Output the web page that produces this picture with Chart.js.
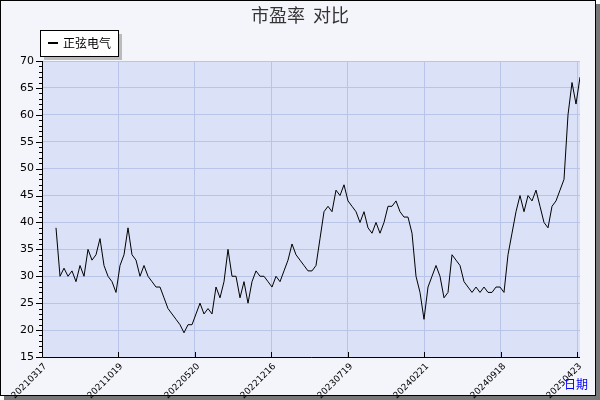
<!DOCTYPE html>
<html><head><meta charset="utf-8">
<script src="https://cdn.jsdelivr.net/npm/chart.js@4/dist/chart.umd.min.js"></script>
<style>html,body{margin:0;padding:0;background:#fff}canvas{display:block}</style>
</head><body>
<canvas id="c" width="600" height="400" style="width:600px;height:400px"></canvas>
<script>
const seriesName = '正弦电气';
const tickLabels = ['20210317','20211019','20220520','20221216','20230719','20240221','20240918','20250423'];
const peValues = [39,30,31.5,30,31,29,32,30,35,33,34,37,32,30,29,27,32,34,39,34,33,30,32,30,29,28,28,26,24,23,22,21,19.5,21,21,23,25,23,24,23,28,26,29,35,30,30,26,29,25,29,31,30,30,29,28,30,29,31,33,36,34,33,32,31,31,32,37,42,43,42,46,45,47,44,43,42,40,42,39,38,40,38,40,43,43,44,42,41,41,38,30,27,22,28,30,32,30,26,27,34,33,32,29,28,27,28,27,28,27,27,28,28,27,34,38,42,45,42,45,44,46,43,40,39,43,44,46,48,60,66,62,67,58,50,40,43,44,45,43];
const tickStep = 19.11;
const pts = peValues.map((v,i)=>({x:i+3.5,y:v}));

const frame = {id:'frame',
  beforeDraw(c){const g=c.ctx,a=c.chartArea;g.save();
    g.fillStyle='#fff';g.fillRect(0,0,600,400);
    g.fillStyle='#777';g.fillRect(4,4,596,396);
    g.fillStyle='#f4f4fb';g.fillRect(0,0,596,396);
    g.strokeStyle='#000';g.lineWidth=1;g.strokeRect(0.5,0.5,595,395);
    g.fillStyle='#dbe1f6';g.fillRect(a.left,a.top,a.right-a.left,a.bottom-a.top);
    g.restore();},
  afterDraw(c){const g=c.ctx,a=c.chartArea;g.save();
    g.font='18px "Noto Sans CJK SC"';g.fillStyle='#333';g.textAlign='center';g.textBaseline='middle';
    g.fillText('市盈率  对比',300,15);
    g.fillStyle='#bbb';g.fillRect(44,34,78,26);
    g.fillStyle='#fff';g.fillRect(40,30,78,26);
    g.strokeStyle='#000';g.lineWidth=1;g.strokeRect(40.5,30.5,78,26);
    g.fillStyle='#000';g.fillRect(48,42,10,2);
    g.font='12px "Noto Sans CJK SC"';g.textAlign='left';g.fillText(seriesName,63,43);
    g.beginPath();g.moveTo(a.left+0.5,a.top);g.lineTo(a.left+0.5,a.bottom+0.5);g.lineTo(a.right,a.bottom+0.5);g.stroke();
    const ys=c.scales.y;g.beginPath();
    for(let v=15;v<=70;v+=1){const y=Math.round(ys.getPixelForValue(v))+0.5;const L=(v%5===0)?6:3;g.moveTo(a.left-L,y);g.lineTo(a.left,y);}
    g.stroke();
    const xs=c.scales.x;g.font='9px "DejaVu Sans"';g.fillStyle='#000';
    tickLabels.forEach((t,k)=>{const x=Math.round(xs.getPixelForValue(k*tickStep))+0.5;
      g.beginPath();g.moveTo(x,a.bottom);g.lineTo(x,a.bottom-5);g.stroke();
      g.save();g.translate(x+3,a.bottom+8);g.rotate(-Math.PI/4);g.textAlign='right';g.textBaseline='middle';g.fillText(t,0,0);g.restore();});
    g.font='12px "Noto Sans CJK SC"';g.fillStyle='#0000ff';g.textAlign='center';g.fillText('日期',576,384);
    g.restore();}
};
new Chart(document.getElementById('c'),{
  type:'line',
  data:{datasets:[{label:seriesName,data:pts,borderColor:'#000',borderWidth:1,pointRadius:0,tension:0}]},
  options:{animation:false,responsive:false,devicePixelRatio:1,
    layout:{padding:{left:0,top:61,right:20,bottom:0}},
    plugins:{legend:{display:false},tooltip:{enabled:false}},
    scales:{
      x:{type:'linear',min:0,max:134.5,afterFit(s){s.height=43;},
        afterBuildTicks(s){s.ticks=tickLabels.map((t,k)=>({value:k*tickStep}));},
        ticks:{display:false},grid:{color:'#b8c4e8',drawTicks:false},border:{display:false}},
      y:{min:15,max:70,afterFit(s){s.width=42;},
        ticks:{stepSize:5,font:{size:11,family:'DejaVu Sans'},color:'#000',padding:8},
        grid:{color:'#b8c4e8',drawTicks:false},border:{display:false}}
    }},
  plugins:[frame]
});
</script>
</body></html>
